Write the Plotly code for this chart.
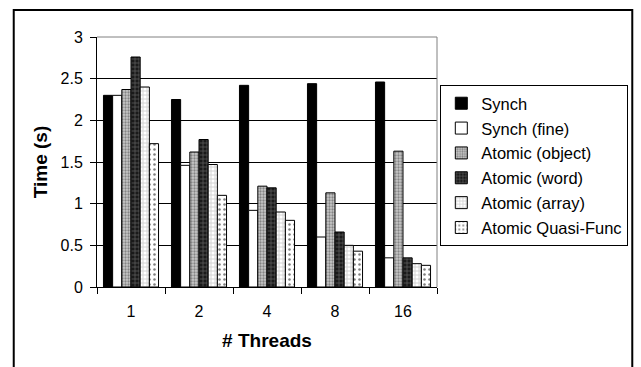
import plotly.graph_objects as go

threads = ["1", "2", "4", "8", "16"]
series_names = ["Synch", "Synch (fine)", "Atomic (object)", "Atomic (word)", "Atomic (array)", "Atomic Quasi-Func"]
synch = [2.30, 2.25, 2.42, 2.44, 2.46]
synch_fine = [2.30, 1.46, 0.92, 0.60, 0.35]
atomic_object = [2.37, 1.62, 1.21, 1.13, 1.63]
atomic_word = [2.76, 1.77, 1.19, 0.66, 0.35]
atomic_array = [2.40, 1.47, 0.90, 0.50, 0.28]
atomic_quasi = [1.72, 1.10, 0.80, 0.43, 0.26]

values = [synch, synch_fine, atomic_object, atomic_word, atomic_array, atomic_quasi]
styles = [
    dict(color="black"),
    dict(color="white"),
    dict(color="#9a9a9a", pattern=dict(shape=".", bgcolor="#c8c8c8", fgcolor="#404040", size=3, solidity=0.45)),
    dict(color="#333333", pattern=dict(shape="+", bgcolor="#1a1a1a", fgcolor="#9a9a9a", size=4, solidity=0.35)),
    dict(color="#dddddd", pattern=dict(shape="+", bgcolor="#ffffff", fgcolor="#a0a0a0", size=4, solidity=0.4)),
    dict(color="white", pattern=dict(shape=".", bgcolor="#ffffff", fgcolor="#000000", size=5, solidity=0.2)),
]

FONT = "Liberation Sans, Arial, sans-serif"
fig = go.Figure()
for i, (name, vals, st) in enumerate(zip(series_names, values, styles)):
    marker = dict(line=dict(color="black", width=1))
    marker.update(st)
    fig.add_trace(go.Bar(name=name, x=threads, y=vals, marker=marker, legendgroup=f"g{i}"))

W, H = 641, 367
L, R, T, B = 97, 440, 37, 287
pw, ph = R - L, B - T

def px(x):
    return (x - L) / pw

def py(y):
    return (B - y) / ph

fig.update_layout(
    width=W, height=H,
    margin=dict(l=L, r=W - R, t=T, b=H - B),
    paper_bgcolor="white", plot_bgcolor="white",
    barmode="group", bargap=0.19, bargroupgap=0,
    font=dict(family=FONT, size=16, color="black"),
    legend=dict(x=px(633), y=py(85), xanchor="right", yanchor="top",
                bordercolor="black", borderwidth=1, bgcolor="white",
                font=dict(size=16.5), tracegroupgap=0.4, itemwidth=30),
    xaxis=dict(type="category", showline=True, linecolor="black", linewidth=1,
               ticks="outside", tickson="boundaries", ticklen=6, tickcolor="black",
               title=dict(text="<b># Threads</b>", standoff=14),
               showgrid=False, automargin=False, ticklabelstandoff=10),
    yaxis=dict(range=[0, 3], dtick=0.5, showline=True, linecolor="black", linewidth=1,
               ticks="outside", ticklen=6, tickcolor="black",
               gridcolor="black", gridwidth=1, zeroline=False,
               title=dict(text="<b>Time (s)</b>", standoff=7),
               automargin=False, ticklabelstandoff=4),
    shapes=[
        dict(type="line", xref="paper", yref="paper", x0=0, x1=1, y0=1, y1=1,
             line=dict(color="#808080", width=1), layer="above"),
        dict(type="line", xref="paper", yref="paper", x0=1, x1=1, y0=0, y1=1,
             line=dict(color="#808080", width=1), layer="above"),
        dict(type="rect", xref="paper", yref="paper", x0=px(13), x1=px(637),
             y0=py(375), y1=py(10), line=dict(color="black", width=2),
             fillcolor="rgba(0,0,0,0)", layer="above"),
    ],
)

fig.write_html("out.html")
